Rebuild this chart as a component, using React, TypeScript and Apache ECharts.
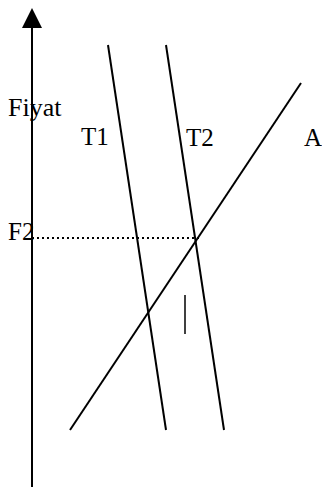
import React, { useEffect, useRef } from "react";
import * as echarts from "echarts";

// Conceptual supply/demand space: x = quantity, y = price (units of 10px)
const t1Line: [number, number][] = [[7.6, 44.2], [13.4, 5.7]];
const t2Line: [number, number][] = [[13.4, 44.2], [19.2, 5.7]];
const aLine: [number, number][] = [[3.8, 5.7], [26.9, 40.4]];
const f2Price = 24.9;
const f2LineEnd = 16.9;
const markerX = 15.3;
const markerRange: [number, number] = [15.3, 19.2];
const labels = ["Fiyat", "T1", "T2", "A", "F2"];

const FONT = '"Liberation Serif", "DejaVu Serif", serif';

export default function App() {
  const ref = useRef<HTMLDivElement>(null);
  useEffect(() => {
    if (!ref.current) return;
    const chart = echarts.init(ref.current, null, { renderer: "svg" });
    const lineStyle = { color: "#000", width: 2 };
    const mk = (data: [number, number][], style: any = lineStyle) => ({
      type: "line",
      data,
      showSymbol: false,
      symbol: "none",
      lineStyle: style,
      silent: true,
    });
    const txt = (text: string, x: number, y: number, size = 25) => ({
      type: "text",
      x,
      y,
      silent: true,
      style: {
        text,
        font: `${size}px ${FONT}`,
        fill: "#000",
        textAlign: "left",
        textVerticalAlign: "middle",
      },
    });
    chart.setOption({
      animation: false,
      backgroundColor: "#fff",
      grid: { left: 32, right: 0, top: 18, bottom: 0, containLabel: false },
      xAxis: { type: "value", min: 0, max: 29, show: false },
      yAxis: {
        type: "value",
        min: 0,
        max: 46.9,
        axisLine: {
          show: true,
          onZero: false,
          symbol: ["none", "triangle"],
          symbolSize: [20, 20],
          lineStyle: { color: "#000", width: 2 },
        },
        axisTick: { show: false },
        axisLabel: { show: false },
        splitLine: { show: false },
      },
      series: [
        mk(t1Line),
        mk(t2Line),
        mk(aLine),
        mk([[0, f2Price], [f2LineEnd, f2Price]], { color: "#000", width: 2, type: [2, 3] }),
        mk([[markerX, markerRange[0]], [markerX, markerRange[1]]], { color: "#000", width: 1.5 }),
      ],
      graphic: [
        txt(labels[0], 8, 107, 26),
        txt(labels[1], 81, 136),
        txt(labels[2], 186, 137),
        txt(labels[3], 304, 137),
        txt(labels[4], 8, 231),
      ],
    });
    return () => chart.dispose();
  }, []);
  return (
    <div
      ref={ref}
      style={{ position: "absolute", left: 0, top: 0, width: 322, height: 487 }}
    />
  );
}
